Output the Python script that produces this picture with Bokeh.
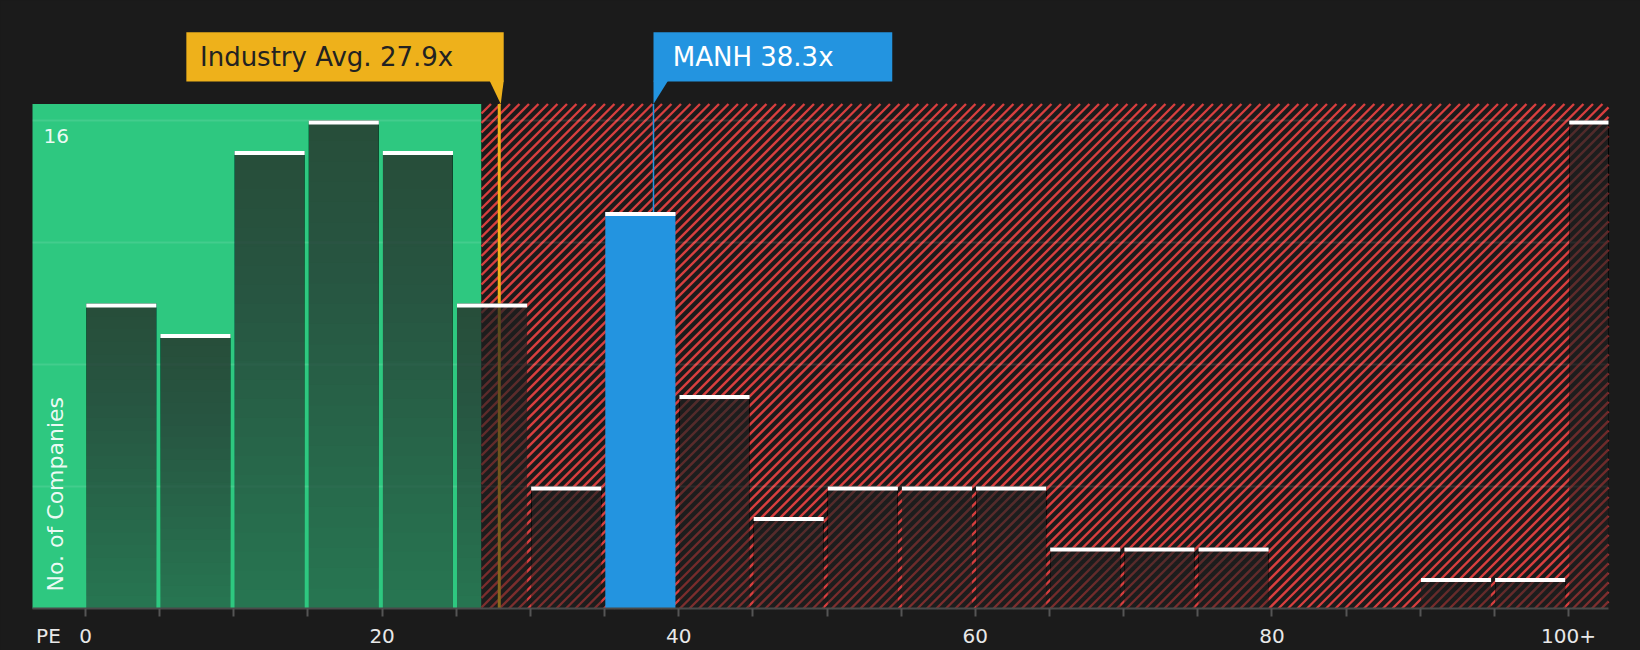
from bokeh.plotting import figure
from bokeh.models import Range1d, FixedTicker
from bokeh.core.properties import value
from bokeh.embed import file_html
from bokeh.resources import INLINE

# ---------------- data ----------------
bin_starts = [0, 5, 10, 15, 20, 25, 30, 35, 40, 45, 50, 55, 60, 65, 70, 75, 80, 85, 90, 95, 100]
counts = [10, 9, 15, 16, 15, 10, 4, 13, 7, 3, 4, 4, 4, 2, 2, 2, 0, 0, 1, 1, 16]
tick_values = [-2.5, 0, 20, 40, 60, 80, 100]
tick_labels = ["PE", "0", "20", "40", "60", "80", "100+"]
minor_tick_values = [0, 5, 10, 15, 20, 25, 30, 35, 40, 45, 50, 55, 60, 65, 70, 75, 80, 85, 90, 95, 100]
grid_values = [4, 8, 12, 16]
industry_avg = 27.9
industry_label = "Industry Avg. 27.9x"
company_pe = 38.3
company_label = "MANH 38.3x"
company_bin = 35
fair_limit = 26.7
y_label = "No. of Companies"
y_top_label = "16"

# ---------------- style ----------------
BG = "#1b1b1b"
GREEN = "#2ec880"
RED = "#d83f3f"
ORANGE = "#eeb11b"
BLUE = "#2394e0"
DARK = "#1f1f1f"
FONT = "DejaVu Sans"
W, H = 1640, 650

# whole canvas is the frame; plotting area bounds inside it
X_START, X_END = -5.732, 104.855
Y_START, Y_END = -1.377, 19.934
PL, PR = -3.574, 102.70
REGION_TOP = 16.54
BOX_TOP, BOX_BOTTOM = 18.89, 17.28

p = figure(width=W, height=H, output_backend="svg", toolbar_location=None,
           x_range=Range1d(X_START, X_END), y_range=Range1d(Y_START, Y_END),
           y_axis_location=None, min_border=0,
           background_fill_color=BG, border_fill_color=BG, outline_line_color=None)
p.styles = {"background-color": BG}
p.xgrid.visible = False
p.ygrid.visible = False

# background regions
p.quad(left=[PL], right=[fair_limit], bottom=[0], top=[REGION_TOP],
       fill_color=GREEN, line_color=None)
p.quad(left=[fair_limit], right=[PR], bottom=[0], top=[REGION_TOP],
       fill_color=BG, line_color=None)

# 45-degree red hatching of the overvalued region (pixel-space geometry)
sx = W / (X_END - X_START)
sy = H / (Y_END - Y_START)
xl, xr = (fair_limit - X_START) * sx, (PR - X_START) * sx
yb, yt = (0 - Y_START) * sy, (REGION_TOP - Y_START) * sy
rh = yt - yb
spacing = 9.5
hx0, hx1, hy0, hy1 = [], [], [], []
x0 = xl - rh
while x0 < xr:
    t_lo = max(0.0, xl - x0)
    t_hi = min(rh, xr - x0)
    if t_hi > t_lo:
        hx0.append((x0 + t_lo) / sx + X_START)
        hy0.append((yb + t_lo) / sy + Y_START)
        hx1.append((x0 + t_hi) / sx + X_START)
        hy1.append((yb + t_hi) / sy + Y_START)
    x0 += spacing
p.segment(x0=hx0, y0=hy0, x1=hx1, y1=hy1, line_color=RED, line_width=2.4)

# grid lines
p.segment(x0=[PL] * len(grid_values), x1=[PR] * len(grid_values),
          y0=grid_values, y1=grid_values,
          line_color="white", line_alpha=0.1, line_width=2)

# marker lines
p.segment(x0=[industry_avg], x1=[industry_avg], y0=[0], y1=[REGION_TOP],
          line_color=ORANGE, line_width=3)
p.segment(x0=[company_pe], x1=[company_pe], y0=[0], y1=[REGION_TOP],
          line_color=BLUE, line_width=1.5)

# bars
lefts = [s + 0.05 for s in bin_starts]
rights = [min(s + 4.78, PR) for s in bin_starts]
dark_idx = [i for i, s in enumerate(bin_starts) if s != company_bin and counts[i] > 0]
dl = [lefts[i] for i in dark_idx]
dr = [rights[i] for i in dark_idx]
dt = [counts[i] for i in dark_idx]
p.quad(left=dl, right=dr, bottom=[0] * len(dl), top=dt,
       fill_color=DARK, fill_alpha=0.48, line_color=None)
N = 24
for k in range(1, N + 1):
    p.quad(left=dl, right=dr, top=dt, bottom=[t * (1 - k / N) for t in dt],
           fill_color=DARK, fill_alpha=0.025, line_color=None)

bi = bin_starts.index(company_bin)
p.quad(left=[lefts[bi]], right=[rights[bi]], bottom=[0], top=[counts[bi]],
       fill_color=BLUE, line_color=None)

# white caps
cap_idx = [i for i in range(len(counts)) if counts[i] > 0]
p.quad(left=[lefts[i] for i in cap_idx], right=[rights[i] for i in cap_idx],
       top=[counts[i] for i in cap_idx], bottom=[counts[i] - 0.13 for i in cap_idx],
       fill_color="white", line_color=None)

# annotation boxes
p.quad(left=[industry_avg + 0.3 - 21.4], right=[industry_avg + 0.3],
       bottom=[BOX_BOTTOM], top=[BOX_TOP], fill_color=ORANGE, line_color=None)
p.patch(x=[industry_avg - 0.65, industry_avg + 0.3, industry_avg + 0.1],
        y=[BOX_BOTTOM + 0.02, BOX_BOTTOM + 0.02, REGION_TOP],
        fill_color=ORANGE, line_color=None)
p.quad(left=[company_pe], right=[company_pe + 16.1],
       bottom=[BOX_BOTTOM], top=[BOX_TOP], fill_color=BLUE, line_color=None)
p.patch(x=[company_pe, company_pe + 0.98, company_pe],
        y=[BOX_BOTTOM + 0.02, BOX_BOTTOM + 0.02, REGION_TOP],
        fill_color=BLUE, line_color=None)

ymid = (BOX_TOP + BOX_BOTTOM) / 2
p.text(x=[industry_avg + 0.3 - 21.4 + 0.92], y=[ymid], text=[industry_label],
       text_font=value(FONT), text_font_size="26px", text_color="#222222",
       text_align="left", text_baseline="middle")
p.text(x=[company_pe + 1.3], y=[ymid], text=[company_label],
       text_font=value(FONT), text_font_size="26px", text_color="white",
       text_align="left", text_baseline="middle")

# in-plot axis texts
p.text(x=[-2.83], y=[15.48], text=[y_top_label], text_font=value(FONT),
       text_font_size="20px", text_color="white", text_alpha=0.92,
       text_align="left", text_baseline="middle")
p.text(x=[-2.02], y=[0.56], text=[y_label], text_font=value(FONT),
       text_font_size="22px", text_color="white", text_alpha=0.92,
       angle=1.5708, text_align="left", text_baseline="middle")

# x axis (fixed at y = 0, bounded to the plotting area)
ax = p.xaxis[0]
ax.fixed_location = 0
ax.bounds = (PL, PR)
ax.ticker = FixedTicker(ticks=tick_values, minor_ticks=minor_tick_values)
ax.major_label_overrides = {v: l for v, l in zip(tick_values, tick_labels)}
ax.axis_line_color = "#4a4a4a"
ax.axis_line_width = 2
ax.major_tick_line_color = None
ax.major_tick_out = 8
ax.major_tick_in = 0
ax.minor_tick_line_color = "#555555"
ax.minor_tick_line_width = 2
ax.minor_tick_out = 8
ax.minor_tick_in = 0
ax.major_label_standoff = 7
ax.major_label_text_font = FONT
ax.major_label_text_font_size = "20px"
ax.major_label_text_color = "#e8e8e8"

open("out.html", "w").write(file_html(p, INLINE))
